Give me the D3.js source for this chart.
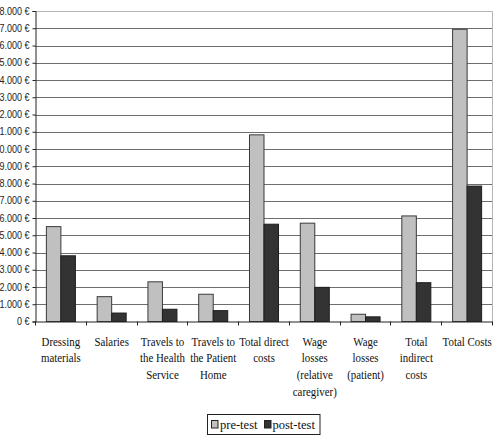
<!DOCTYPE html>
<html>
<head>
<meta charset="utf-8">
<script src="https://cdn.jsdelivr.net/npm/d3@7"></script>
<style>
  body { margin: 0; background: #fff; }
  svg { display: block; }
</style>
</head>
<body>
<div id="chart"></div>
<script>
// categories, one entry per line of the label
const categories = [
  ['Dressing', 'materials'],
  ['Salaries'],
  ['Travels to', 'the Health', 'Service'],
  ['Travels to', 'the Patient', 'Home'],
  ['Total direct', 'costs'],
  ['Wage', 'losses', '(relative', 'caregiver)'],
  ['Wage', 'losses', '(patient)'],
  ['Total', 'indirect', 'costs'],
  ['Total Costs']
];
const preTest = [5500, 1440, 2300, 1580, 10820, 5700, 420, 6120, 16940];
const postTest = [3810, 490, 710, 630, 5640, 1980, 270, 2250, 7850];
const seriesNames = ['pre-test', 'post-test'];
const yTicks = d3.range(0, 18001, 1000);

const W = 499, H = 447;
const mLeft = 35, mRight = 492, mTop = 11, mBottom = 321.5;

const svg = d3.select('#chart').append('svg').attr('width', W).attr('height', H);

const x = d3.scaleBand().domain(d3.range(categories.length)).range([mLeft, mRight]).padding(0);
const xs = d3.scaleBand().domain(seriesNames).range([0, x.bandwidth()]).paddingInner(0).paddingOuter(0.75);
const y = d3.scaleLinear().domain([0, 18000]).range([mBottom, mTop]);
const color = d3.scaleOrdinal().domain(seriesNames).range(['#c0c0c0', '#333333']);

const locale = d3.formatLocale({ decimal: ',', thousands: '.', grouping: [3], currency: ['', '']});
const fmt = d => locale.format(',')(d) + ' €';

// gridlines
svg.append('g')
  .selectAll('line').data(yTicks.filter(d => d > 0 && d < 18000)).enter().append('line')
  .attr('x1', mLeft).attr('x2', mRight)
  .attr('y1', d => Math.round(y(d)) + 0.5).attr('y2', d => Math.round(y(d)) + 0.5)
  .attr('stroke', '#6e6e6e').attr('stroke-width', 1);

// plot border top/right
svg.append('path')
  .attr('d', `M${mLeft},${Math.round(mTop) + 0.5}H${mRight + 0.5}V${mBottom}`)
  .attr('fill', 'none').attr('stroke', '#b4b4b4');

// bars
const rows = categories.map((c, i) => ({ i, values: [preTest[i], postTest[i]] }));
const groups = svg.append('g').selectAll('g').data(rows).enter().append('g')
  .attr('transform', d => `translate(${x(d.i)},0)`);
groups.selectAll('rect').data(d => d.values.map((v, k) => ({ key: seriesNames[k], v }))).enter().append('rect')
  .attr('x', d => xs(d.key) + 0.5)
  .attr('width', xs.bandwidth())
  .attr('y', d => y(d.v))
  .attr('height', d => mBottom - y(d.v))
  .attr('fill', d => color(d.key))
  .attr('stroke', d => d.key === 'pre-test' ? '#3a3a3a' : '#1e1e1e')
  .attr('stroke-width', 1);

// y axis
const yAxis = svg.append('g').attr('transform', `translate(${mLeft + 0.5},0)`)
  .call(d3.axisLeft(y).tickValues(yTicks).tickSize(3).tickFormat(fmt));
yAxis.select('.domain').attr('stroke', '#222');
yAxis.selectAll('.tick line').attr('stroke', '#222');
yAxis.selectAll('.tick text')
  .attr('font-family', 'Liberation Sans, Arial, sans-serif')
  .attr('font-size', 10).attr('fill', '#222')
  .attr('x', 0)
  .attr('transform', 'translate(-6,0) scale(0.9,1)');

// x axis line and ticks
const xAxis = svg.append('g');
xAxis.append('line').attr('x1', mLeft).attr('x2', mRight + 0.5)
  .attr('y1', mBottom + 0.5).attr('y2', mBottom + 0.5).attr('stroke', '#222');
xAxis.selectAll('.xt').data(d3.range(categories.length + 1)).enter().append('line')
  .attr('class', 'xt')
  .attr('x1', d => Math.round(mLeft + d * x.step()) + 0.5)
  .attr('x2', d => Math.round(mLeft + d * x.step()) + 0.5)
  .attr('y1', mBottom).attr('y2', mBottom + 4).attr('stroke', '#222');

// category labels
const labels = svg.append('g').selectAll('text').data(categories).enter().append('text')
  .attr('transform', (d, i) => `translate(${x(i) + x.bandwidth() / 2 + 0.5},345.5) scale(0.87,1)`)
  .attr('text-anchor', 'middle')
  .attr('font-family', 'Liberation Serif, Times New Roman, serif')
  .attr('font-size', 12.5).attr('fill', '#111');
labels.selectAll('tspan').data(d => d).enter().append('tspan')
  .attr('x', 0).attr('dy', (d, k) => k === 0 ? 0 : 16.7).text(d => d);

// legend
const lg = svg.append('g');
lg.append('rect').attr('x', 207.5).attr('y', 414.5).attr('width', 112.5).attr('height', 20)
  .attr('fill', '#fff').attr('stroke', '#222');
const items = [{ name: 'pre-test', x: 211.5, tx: 220 }, { name: 'post-test', x: 264.5, tx: 272.5 }];
items.forEach(it => {
  lg.append('rect').attr('x', it.x).attr('y', 420.5).attr('width', 6.5).attr('height', 7.5)
    .attr('fill', color(it.name)).attr('stroke', '#222');
  lg.append('text').attr('x', it.tx).attr('y', 429)
    .attr('font-family', 'Liberation Serif, Times New Roman, serif')
    .attr('font-size', 12.5).attr('fill', '#111').text(it.name);
});
</script>
</body>
</html>
